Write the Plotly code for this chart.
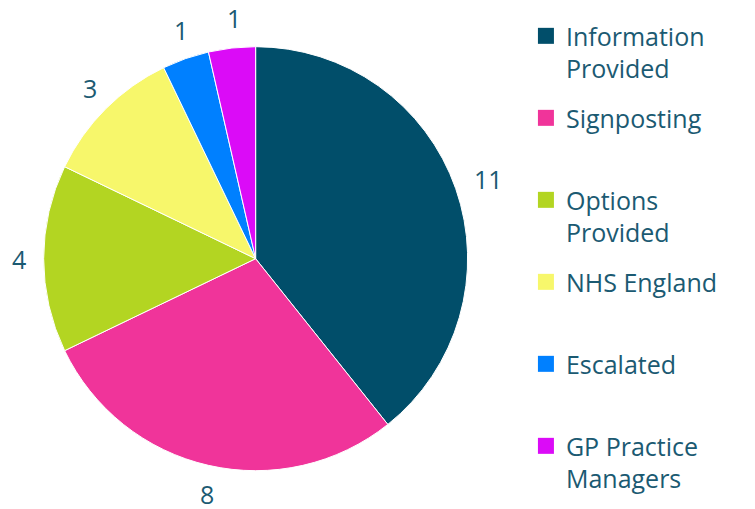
import math
import plotly.graph_objects as go

categories = ["Information<br>Provided", "Signposting<br> ", "Options<br>Provided",
              "NHS England<br> ", "Escalated<br> ", "GP Practice<br>Managers"]
values = [11, 8, 4, 3, 1, 1]
colors = ["#014E6A", "#F0349A", "#B3D522", "#F7F76B", "#0080FF", "#DB0BF7"]

text_color = "#1B5A72"
W, H = 755, 509
dom_x = [0.047, 0.609]
dom_y = [0.091, 0.924]

fig = go.Figure()

fig.add_trace(go.Pie(
    labels=categories,
    values=values,
    sort=False,
    direction="clockwise",
    rotation=0,
    marker=dict(colors=colors, line=dict(color="white", width=1)),
    textinfo="none",
    showlegend=False,
    domain=dict(x=dom_x, y=dom_y),
    hovertemplate="%{label}: %{value}<extra></extra>",
))

# value labels just outside each slice, at the slice's mid angle
# (the pie is drawn a few px right of its domain centre)
cx_px = sum(dom_x) / 2 * W + 5
cy_px = (1 - sum(dom_y) / 2) * H
radius_px = (dom_x[1] - dom_x[0]) * W / 2
total = sum(values)
cum = 0
for v in values:
    ang = 2 * math.pi * (cum + v / 2) / total
    cum += v
    d = radius_px * 1.14
    fig.add_annotation(
        x=(cx_px + d * math.sin(ang)) / W, y=1 - (cy_px - d * math.cos(ang)) / H,
        xref="paper", yref="paper", xanchor="center", yanchor="middle",
        text=str(v), showarrow=False,
        font=dict(size=25, color=text_color),
    )

# legend entries (one group each so the spacing can be set)
for cat, col in zip(categories, colors):
    fig.add_trace(go.Scatter(
        x=[None], y=[None], mode="markers", name=cat,
        legendgroup=cat,
        marker=dict(symbol="square", size=16, color=col),
    ))

fig.update_layout(
    width=W,
    height=H,
    margin=dict(l=0, r=0, t=0, b=0),
    paper_bgcolor="white",
    plot_bgcolor="white",
    xaxis=dict(visible=False),
    yaxis=dict(visible=False),
    font=dict(family="Open Sans", size=26, color=text_color),
    legend=dict(x=0.686, y=0.99, xanchor="left", yanchor="top",
                valign="top", font=dict(size=25, color=text_color),
                tracegroupgap=14, itemwidth=30),
)

fig.write_html("out.html")
